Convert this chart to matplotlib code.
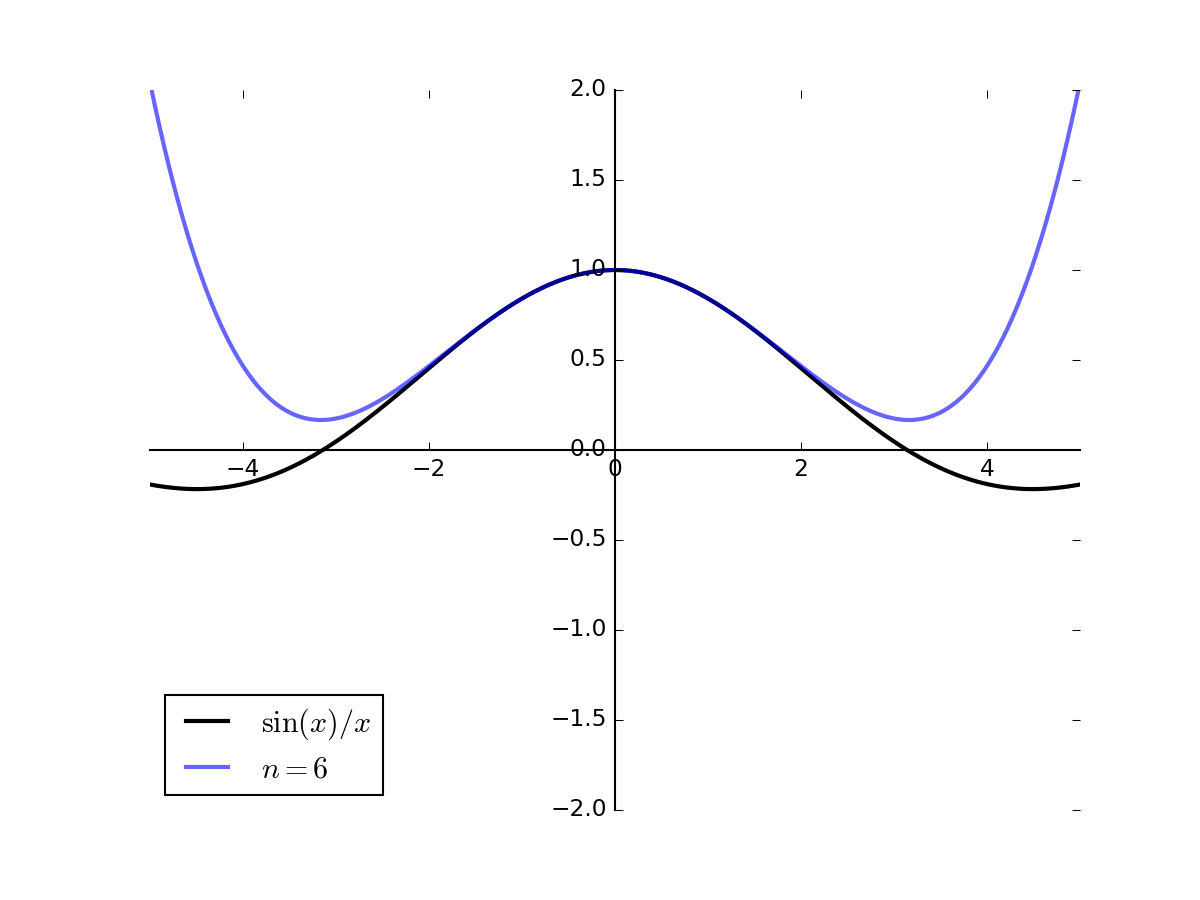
import numpy as np
import matplotlib
matplotlib.use("Agg")
import matplotlib.pyplot as plt

plt.style.use('classic')
plt.rcParams['mathtext.fontset'] = 'cm'
plt.rcParams['font.size'] = 11.2

# Data: sin(x)/x and its Taylor polynomial (terms through x^4, labelled n=6)
x_range = [-5.0, 5.0]
n_points = 400
taylor_coeffs = [1.0, 0.0, -1.0 / 6.0, 0.0, 1.0 / 120.0]
series_labels = [r'$\sin(x)/x$', r'$n=6$']
y_limits = [-2.0, 2.0]

x = np.linspace(x_range[0], x_range[1], n_points)
y_true = np.sinc(x / np.pi)
y_taylor = np.polyval(taylor_coeffs[::-1], x)

fig = plt.figure(figsize=(8, 6), dpi=150)
ax = fig.add_subplot(111)

ax.plot(x, y_true, color='k', lw=2, label=series_labels[0])
ax.plot(x, y_taylor, color='b', lw=2, alpha=0.6, label=series_labels[1])

ax.set_xlim(x_range)
ax.set_ylim(y_limits)

ax.spines['left'].set_position('zero')
ax.spines['bottom'].set_position('zero')
ax.spines['right'].set_color('none')
ax.spines['top'].set_color('none')

ax.legend(loc='lower left', fontsize=14.4, labelspacing=0.4)

fig.savefig('out.png', dpi=150)
